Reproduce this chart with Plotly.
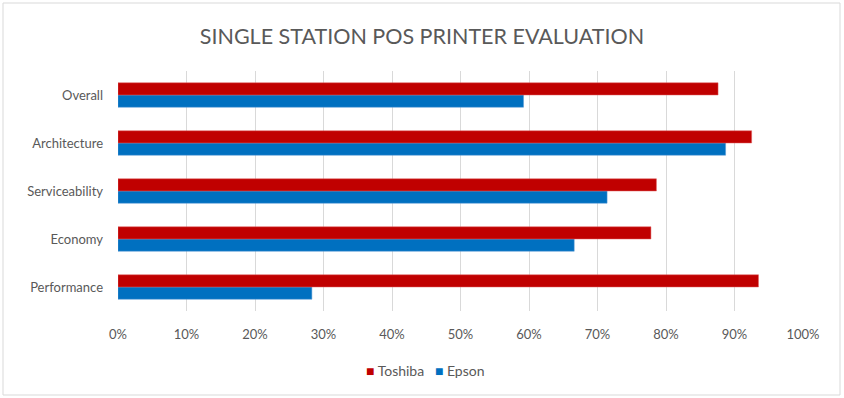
import plotly.graph_objects as go

categories = ["Performance", "Economy", "Serviceability", "Architecture", "Overall"]
toshiba = [93.5, 77.8, 78.6, 92.5, 87.6]
epson = [28.3, 66.6, 71.4, 88.7, 59.2]
tick_vals = [0, 10, 20, 30, 40, 50, 60, 70, 80, 90, 100]
tick_text = [f"{v}%" for v in tick_vals]

W, H = 844, 398
ML, MR, MT, MB = 118, 41, 71, 87
pw, ph = W - ML - MR, H - MT - MB
TOSHIBA_COLOR = "#c00000"
EPSON_COLOR = "#0070c0"

fig = go.Figure()
fig.add_trace(go.Bar(y=categories, x=epson, orientation="h", name="Epson", showlegend=False,
                     marker=dict(color=EPSON_COLOR, line=dict(color="#5b9bd5", width=0.5))))
fig.add_trace(go.Bar(y=categories, x=toshiba, orientation="h", name="Toshiba", showlegend=False,
                     marker=dict(color=TOSHIBA_COLOR, line=dict(color="#e06060", width=0.5))))

def px_x(x):
    return (x - ML) / pw

def px_y(y):
    return (H - MB - y) / ph

legend_text = (f"<span style='color:{TOSHIBA_COLOR}'>■</span> Toshiba"
               f"&nbsp;&nbsp;&nbsp;<span style='color:{EPSON_COLOR}'>■</span> Epson")

fig.update_layout(
    width=W, height=H,
    margin=dict(l=ML, r=MR, t=MT, b=MB, autoexpand=False),
    paper_bgcolor="white", plot_bgcolor="white",
    barmode="group", bargap=0.49, bargroupgap=0,
    font=dict(family="Lato, Open Sans, sans-serif", color="#595959", size=13),
    title=dict(text="SINGLE STATION POS PRINTER EVALUATION", x=0.5, xanchor="center",
               y=1 - 36 / H, yanchor="middle",
               font=dict(size=21.5, color="#595959", family="Lato, Open Sans, sans-serif")),
    xaxis=dict(range=[0, 100], tickvals=tick_vals, ticktext=tick_text, automargin=False,
               showgrid=True, gridcolor="#d9d9d9", gridwidth=1,
               zeroline=False, showline=False, ticks="", ticklabelstandoff=14,
               tickfont=dict(size=13, color="#595959")),
    yaxis=dict(categoryorder="array", categoryarray=categories, showgrid=False, automargin=False,
               zeroline=False, showline=False, ticks="", ticklabelstandoff=14,
               tickfont=dict(size=13, color="#595959")),
    showlegend=False,
    annotations=[dict(text=legend_text, xref="paper", yref="paper",
                      x=px_x(425), y=px_y(370), xanchor="center", yanchor="middle",
                      showarrow=False, font=dict(size=14, color="#595959"))],
    shapes=[dict(type="rect", xref="paper", yref="paper",
                 x0=px_x(3), x1=px_x(840), y0=px_y(395), y1=px_y(3),
                 line=dict(color="#d9d9d9", width=1), fillcolor="rgba(0,0,0,0)",
                 layer="below")],
)

fig.write_html("out.html", config={"displayModeBar": False},
               post_script="document.body.style.margin='0';document.body.style.padding='0';")
